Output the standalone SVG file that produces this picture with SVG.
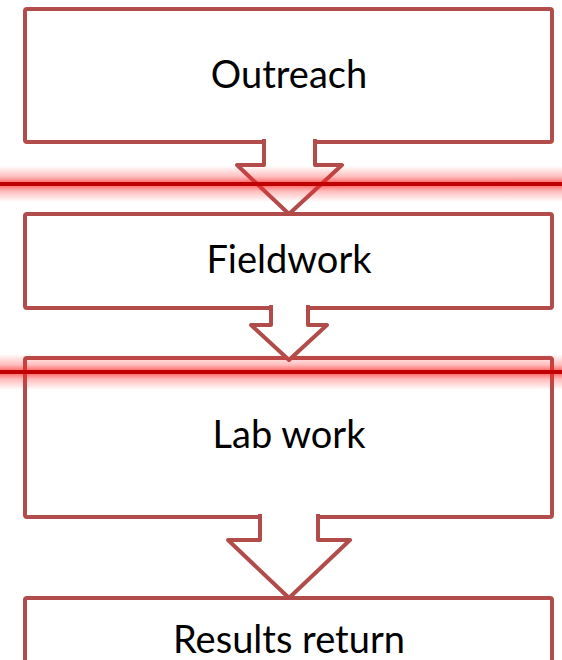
<svg xmlns="http://www.w3.org/2000/svg" width="562" height="660" viewBox="0 0 562 660">
<style>
.box{fill:#fff;stroke:#b24c4a;stroke-width:4}
.arr{fill:#fff;stroke:#b24c4a;stroke-width:4;stroke-linejoin:round}
.lbl{font-family:Lato,"Open Sans","Liberation Sans",sans-serif;font-size:38px;fill:#000;text-anchor:middle}
.core{fill:#c00000}
</style>
<defs>
<linearGradient id="glow" x1="0" y1="0" x2="0" y2="1">
<stop offset="0" stop-color="#ff2020" stop-opacity="0"/>
<stop offset="0.3" stop-color="#ff2020" stop-opacity="0.3"/>
<stop offset="0.5" stop-color="#ff2020" stop-opacity="0.75"/>
<stop offset="0.7" stop-color="#ff2020" stop-opacity="0.3"/>
<stop offset="1" stop-color="#ff2020" stop-opacity="0"/>
</linearGradient>
</defs>
<rect width="562" height="660" fill="#fff"/>
<g id="n1"><rect class="box" x="25" y="9" width="527" height="133" rx="2"/><text class="lbl" x="289" y="88">Outreach</text></g>
<g id="n2"><rect class="box" x="25" y="214" width="527" height="94" rx="2"/><text class="lbl" x="289" y="273">Fieldwork</text></g>
<g id="n3"><rect class="box" x="25" y="358" width="527" height="159" rx="2"/><text class="lbl" x="289" y="448">Lab work</text></g>
<g id="n4"><rect class="box" x="25" y="598" width="527" height="80" rx="2"/><text class="lbl" x="289" y="653">Results return</text></g>
<g id="connectors">
<path class="arr" d="M264,139 V165 H237 L289,214 L342,165 H315 V139"/>
<path class="arr" d="M271,305 V325 H251 L289,360 L327,325 H308 V305"/>
<path class="arr" d="M260,514 V540 H228 L289,598 L350,540 H318 V514"/>
</g>
<g id="lines">
<rect x="0" y="166" width="562" height="36" fill="url(#glow)"/>
<rect class="core" x="0" y="182" width="562" height="4"/>
<rect x="0" y="354" width="562" height="36" fill="url(#glow)"/>
<rect class="core" x="0" y="370" width="562" height="4"/>
</g>
</svg>
